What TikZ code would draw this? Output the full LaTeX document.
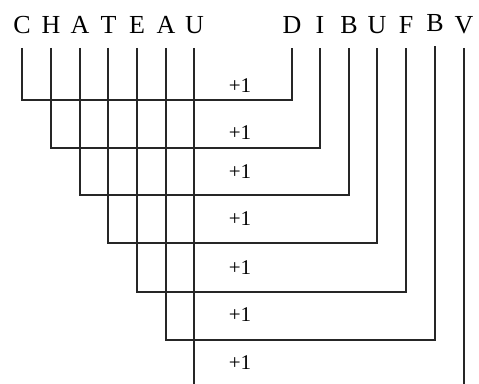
\documentclass[tikz,border=0pt]{standalone}
\usepackage{fontspec}
\setmainfont{Liberation Serif}
\usetikzlibrary{positioning}

\begin{document}
\begin{tikzpicture}[
  x=0.5pt, y=-0.5pt,
  letter/.style={inner sep=0pt, outer ysep=7pt, anchor=base,
                 text depth=0pt, font=\fontsize{13}{13}\selectfont},
  plus/.style={inner sep=0pt, font=\fontsize{10.5}{10.5}\selectfont},
  link/.style={line width=1pt, draw=black!85}
]
\useasboundingbox (0,0) rectangle (479,384);

% top word
\node[letter] (C)  at (22,34)  {C};
\node[letter] (H)  at (51,34)  {H};
\node[letter] (A1) at (80,34)  {A};
\node[letter] (T)  at (108.5,34) {T};
\node[letter] (E)  at (137,34) {E};
\node[letter] (A2) at (166,34) {A};
\node[letter] (U1) at (194.5,34) {U};

% second word
\node[letter] (D)  at (292,34) {D};
\node[letter] (I)  at (320,34) {I};
\node[letter] (B1) at (349,34) {B};
\node[letter] (U2) at (377,34) {U};
\node[letter] (F)  at (406,34) {F};
\node[letter] (B2) at (435,32) {B};
\node[letter] (V)  at (464,34) {V};

\draw[link] (C.south)  -- ++(0,52)  -| (D.south);
\draw[link] (H.south)  -- ++(0,100) -| (I.south);
\draw[link] (A1.south) -- ++(0,147) -| (B1.south);
\draw[link] (T.south)  -- ++(0,195) -| (U2.south);
\draw[link] (E.south)  -- ++(0,244) -| (F.south);
\draw[link] (A2.south) -- ++(0,292) -| (B2.south);
\draw[link] (U1.south) -- ++(0,336);
\draw[link] (V.south)  -- ++(0,336);

\node[plus] (p1) at (240,86)  {+1};
\node[plus] (p2) at (240,133) {+1};
\node[plus] (p3) at (240,172) {+1};
\node[plus] (p4) at (240,219) {+1};
\node[plus] (p5) at (240,268) {+1};
\node[plus] (p6) at (240,315) {+1};
\node[plus] (p7) at (240,363) {+1};
\end{tikzpicture}
\end{document}
